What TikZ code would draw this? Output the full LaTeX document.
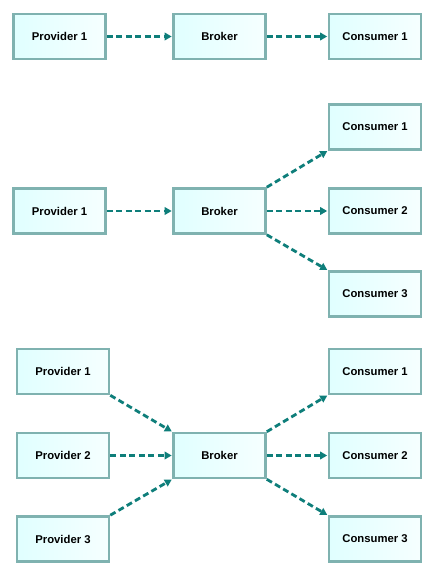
\documentclass[tikz,border=0pt]{standalone}
\usepackage{fontspec}
\setmainfont{Liberation Sans}
\usetikzlibrary{arrows.meta}
\definecolor{bordercol}{HTML}{7FB2B0}
\definecolor{fillcol}{HTML}{E0FFFF}
\definecolor{arrowcol}{HTML}{0E7E7A}
\tikzset{
  box/.style={draw=bordercol, line width=2.6pt, left color=fillcol, right color=white!70!fillcol,
    minimum width=92pt, minimum height=45pt, inner sep=0pt, font=\bfseries\fontsize{11.3}{13}\selectfont},
  link/.style={draw=arrowcol, line width=2.8pt, dash pattern=on 6pt off 3.5pt,
    -{Triangle[length=7pt,width=7.5pt]}, shorten >=0.5pt}
}
\begin{document}
\begin{tikzpicture}[x=1pt,y=-1pt]
\useasboundingbox (0,0) rectangle (433,575);
% row 1
\node[box] (p1a) at (59.5,36.5) {Provider 1};
\node[box] (ba) at (219.5,36.5) {Broker};
\node[box] (c1a) at (375,36.5) {Consumer 1};
\draw[link] (p1a) -- (ba);
\draw[link] (ba) -- (c1a);
% row 2
\node[box] (p1b) at (59.5,211) {Provider 1};
\node[box] (bb) at (219.5,211) {Broker};
\node[box] (c1b) at (375,127) {Consumer 1};
\node[box] (c2b) at (375,211) {Consumer 2};
\node[box] (c3b) at (375,294) {Consumer 3};
\draw[link] (p1b) -- (bb);
\draw[link] (bb.north east) -- (c1b.south west);
\draw[link] (bb) -- (c2b);
\draw[link] (bb.south east) -- (c3b.north west);
% row 3
\node[box] (p1c) at (63,371.5) {Provider 1};
\node[box] (p2c) at (63,455.5) {Provider 2};
\node[box] (p3c) at (63,539) {Provider 3};
\node[box] (bc) at (219.5,455.5) {Broker};
\node[box] (c1c) at (375,371.5) {Consumer 1};
\node[box] (c2c) at (375,455.5) {Consumer 2};
\node[box] (c3c) at (375,539) {Consumer 3};
\draw[link] (p1c.south east) -- (bc.north west);
\draw[link] (p2c) -- (bc);
\draw[link] (p3c.north east) -- (bc.south west);
\draw[link] (bc.north east) -- (c1c.south west);
\draw[link] (bc) -- (c2c);
\draw[link] (bc.south east) -- (c3c.north west);
\end{tikzpicture}
\end{document}
